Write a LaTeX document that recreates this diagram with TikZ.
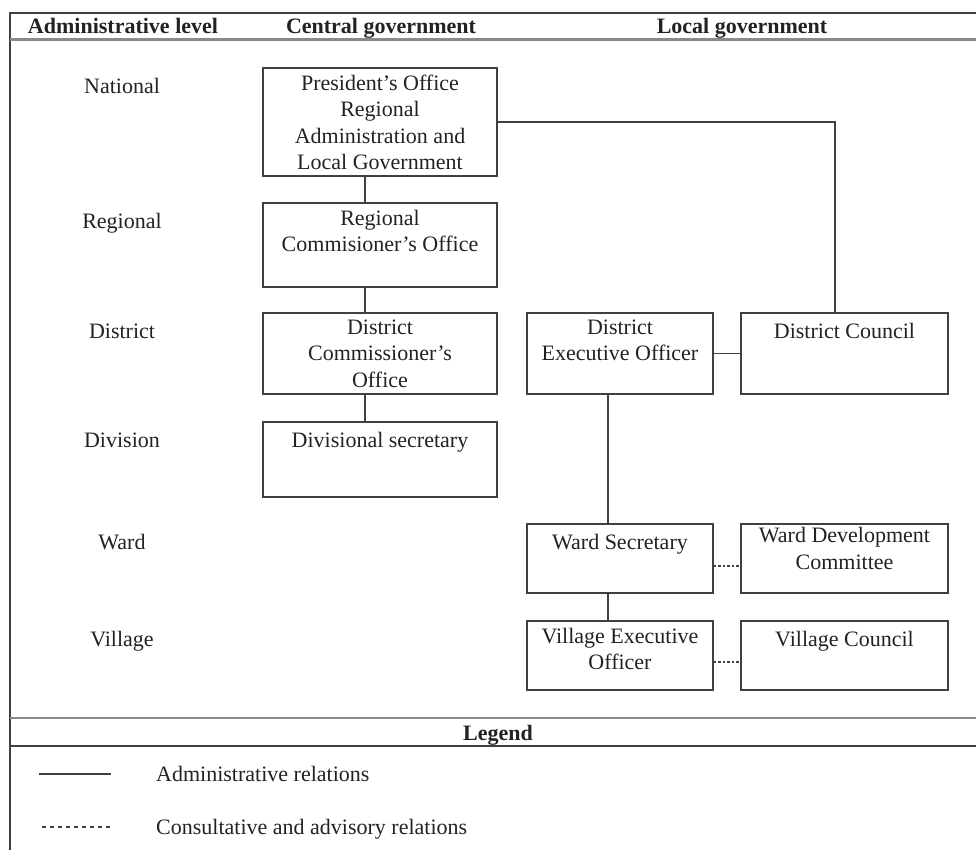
\documentclass[tikz,border=0pt]{standalone}
\usepackage{fontspec}
\setmainfont{Liberation Serif}
\usetikzlibrary{calc}

\definecolor{ink}{HTML}{222222}
\definecolor{rule}{HTML}{404040}
\definecolor{softrule}{HTML}{8A8A8A}

\begin{document}
\begin{tikzpicture}[x=1pt,y=-1pt,
  every node/.style={inner sep=0pt, text=ink},
  orgbox/.style={draw=rule, line width=1.8pt, rectangle},
  boxtext/.style={anchor=north, align=center,
    font=\fontsize{22}{26.5}\selectfont, execute at begin node=\strut},
  lvltext/.style={anchor=north, font=\fontsize{22}{26.5}\selectfont,
    execute at begin node=\strut},
  headtext/.style={anchor=base, font=\fontsize{22}{26.5}\selectfont\bfseries},
  legtext/.style={anchor=base west, font=\fontsize{22}{26.5}\selectfont},
  admin/.style={draw=rule, line width=1.6pt},
  advisory/.style={draw=rule, line width=1.6pt, dash pattern=on 2.5pt off 2pt},
]
\useasboundingbox (0,0) rectangle (976,850);

% outer frame and horizontal rules
\draw[rule, line width=2.5pt] (976,13) -- (10,13) -- (10,850);
\draw[softrule, line width=3pt] (10,40) -- (976,40);
\draw[softrule, line width=2.5pt] (10,718) -- (976,718);
\draw[rule, line width=2pt] (10,746) -- (976,746);

% column headings
\node[headtext] (h-lvl) at (123,34) {Administrative level};
\node[headtext] (h-cen) at (381,34) {Central government};
\node[headtext] (h-loc) at (742,34) {Local government};

% reference columns for connectors and level labels
\coordinate (lvlx) at (122,0);
\coordinate (cx) at (365,0);
\coordinate (lx) at (608,0);
\coordinate (dcx) at (835,0);
\coordinate (wsy) at (0,566);
\coordinate (veoy) at (0,662);

% central government
\node[orgbox, minimum width=234pt, minimum height=108pt] (pres) at (380,122) {};
\node[boxtext] (pres-t) at ([yshift=-7.5pt]pres.north)
  {President’s Office\\Regional\\Administration and\\Local Government};
\node[orgbox, minimum width=234pt, minimum height=84pt] (reg) at (380,245) {};
\node[boxtext] (reg-t) at ([yshift=-7.5pt]reg.north)
  {Regional\\Commisioner’s Office};
\node[orgbox, minimum width=234pt, minimum height=81pt] (dco) at (380,353.5) {};
\node[boxtext] (dco-t) at ([yshift=-7.5pt]dco.north)
  {District\\Commissioner’s\\Office};
\node[orgbox, minimum width=234pt, minimum height=75pt] (div) at (380,459.5) {};
\node[boxtext] (div-t) at ([yshift=-7.5pt]div.north) {Divisional secretary};

% local government
\node[orgbox, minimum width=186pt, minimum height=81pt] (deo) at (620,353.5) {};
\node[boxtext] (deo-t) at ([yshift=-7.5pt]deo.north) {District\\Executive Officer};
\node[orgbox, minimum width=207pt, minimum height=81pt] (dc) at (844.5,353.5) {};
\node[boxtext] (dc-t) at ([yshift=-7.5pt]dc.north) {District Council};
\node[orgbox, minimum width=186pt, minimum height=69pt] (ws) at (620,558.5) {};
\node[boxtext] (ws-t) at ([yshift=-7.5pt]ws.north) {Ward Secretary};
\node[orgbox, minimum width=207pt, minimum height=69pt] (wdc) at (844.5,558.5) {};
\node[boxtext] (wdc-t) at ([yshift=-4pt]wdc.north) {Ward Development\\Committee};
\node[orgbox, minimum width=186pt, minimum height=69pt] (veo) at (620,655.5) {};
\node[boxtext] (veo-t) at ([yshift=-7.5pt]veo.north) {Village Executive\\Officer};
\node[orgbox, minimum width=207pt, minimum height=69pt] (vc) at (844.5,655.5) {};
\node[boxtext] (vc-t) at ([yshift=-7.5pt]vc.north) {Village Council};

% administrative levels
\node[lvltext] (l-nat) at (pres-t.north -| lvlx) {National};
\node[lvltext] (l-reg) at (reg-t.north -| lvlx) {Regional};
\node[lvltext] (l-dis) at (dco-t.north -| lvlx) {District};
\node[lvltext] (l-div) at (div-t.north -| lvlx) {Division};
\node[lvltext] (l-war) at (ws-t.north -| lvlx) {Ward};
\node[lvltext] (l-vil) at (veo-t.north -| lvlx) {Village};

% administrative relations
\draw[admin] (pres.south -| cx) -- (reg.north -| cx);
\draw[admin] (reg.south -| cx) -- (dco.north -| cx);
\draw[admin] (dco.south -| cx) -- (div.north -| cx);
\draw[admin] (pres.east) -| (dc.north -| dcx);
\draw[admin] (deo.east) -- (dc.west);
\draw[admin] (deo.south -| lx) -- (ws.north -| lx);
\draw[admin] (ws.south -| lx) -- (veo.north -| lx);

% consultative and advisory relations
\draw[advisory] (ws.east |- wsy) -- (wdc.west |- wsy);
\draw[advisory] (veo.east |- veoy) -- (vc.west |- veoy);

% legend
\node[headtext] (h-leg) at (498,740) {Legend};
\coordinate (ls1) at (39,774);
\coordinate (ls2) at (111,774);
\coordinate (ld1) at (42,827);
\coordinate (ld2) at (112,827);
\draw[admin] (ls1) -- (ls2);
\draw[rule, line width=1.3pt, dash pattern=on 3.5pt off 4.5pt] (ld1) -- (ld2);
\node[legtext] (leg-admin) at (156,781) {Administrative relations};
\node[legtext] (leg-adv) at (156,834) {Consultative and advisory relations};
\end{tikzpicture}
\end{document}
